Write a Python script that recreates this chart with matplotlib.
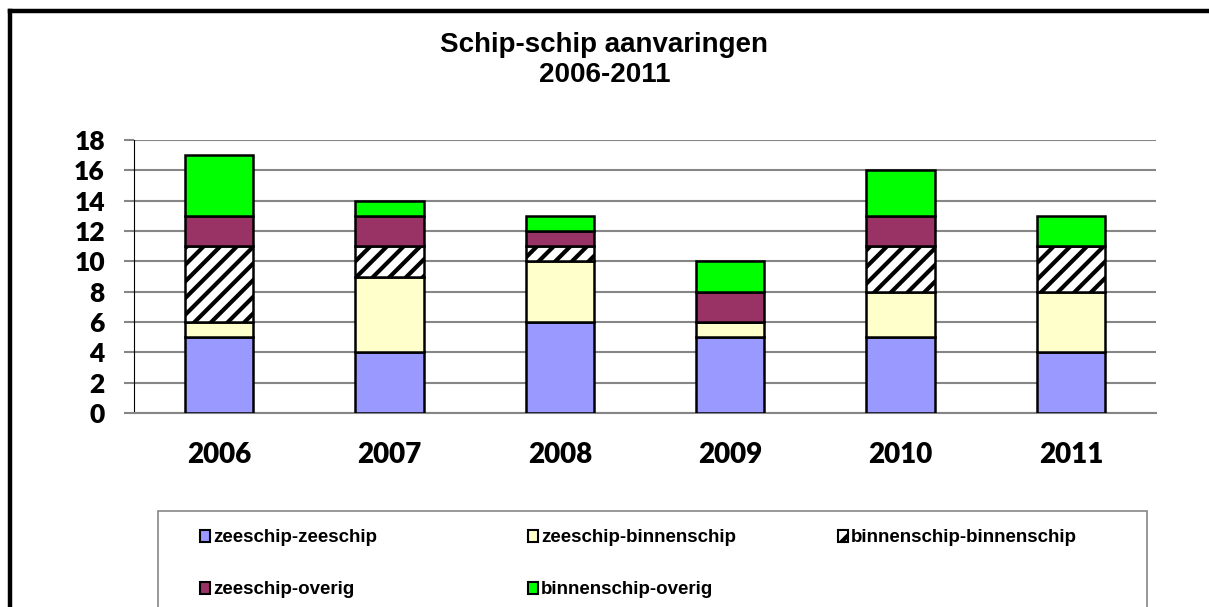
import numpy as np
import matplotlib
matplotlib.use("Agg")
import matplotlib.pyplot as plt
from matplotlib.patches import Rectangle, Patch
from matplotlib.lines import Line2D

years = ["2006", "2007", "2008", "2009", "2010", "2011"]
zeeschip_zeeschip = [5, 4, 6, 5, 5, 4]
zeeschip_binnenschip = [1, 5, 4, 1, 3, 4]
binnenschip_binnenschip = [5, 2, 1, 0, 3, 3]
zeeschip_overig = [2, 2, 1, 2, 2, 0]
binnenschip_overig = [4, 1, 1, 2, 3, 2]

labels = ["zeeschip-zeeschip", "zeeschip-binnenschip", "binnenschip-binnenschip",
          "zeeschip-overig", "binnenschip-overig"]
series = [zeeschip_zeeschip, zeeschip_binnenschip, binnenschip_binnenschip,
          zeeschip_overig, binnenschip_overig]
colors = ["#9999FF", "#FFFFCC", "white", "#993366", "#00FF00"]
hatches = [None, None, "//", None, None]

plt.rcParams["hatch.linewidth"] = 3.0
plt.rcParams["hatch.color"] = "black"

W, H = 1209, 607
fig = plt.figure(figsize=(W / 100, H / 100), dpi=100)
ax = fig.add_axes([134 / W, 1 - 413 / H, (1156 - 134) / W, (413 - 140) / H])

x = np.arange(len(years))
bottom = np.zeros(len(years))
handles = []
for vals, lab, col, hat in zip(series, labels, colors, hatches):
    vals = np.array(vals)
    ax.bar(x, vals, 0.4, bottom=bottom, color=col, edgecolor="black",
           linewidth=1.8, hatch=hat, zorder=3)
    bottom += vals
    handles.append(Patch(facecolor=col, edgecolor="black", linewidth=1.5, hatch=hat))

ax.set_xlim(-0.5, len(years) - 0.5)
ax.set_ylim(0, 18)
ax.set_yticks(range(0, 19, 2))
ax.set_xticks(x)
ax.set_xticklabels(years)
ax.yaxis.grid(True, color="#868686", linewidth=1.5, zorder=0)
ax.set_axisbelow(True)
for s in ["top", "right"]:
    ax.spines[s].set_visible(False)
ax.spines["left"].set_color("black")
ax.spines["left"].set_linewidth(0.8)
ax.spines["bottom"].set_color("#868686")
ax.spines["bottom"].set_linewidth(1.5)
ax.tick_params(axis="y", length=7, width=1.5, color="#868686", pad=14)
ax.tick_params(axis="x", length=0, pad=21)
for t in ax.get_yticklabels():
    t.set_fontfamily("Lato")
    t.set_fontweight("heavy")
    t.set_fontsize(19)
for t in ax.get_xticklabels():
    t.set_fontfamily("Lato")
    t.set_fontweight("heavy")
    t.set_fontsize(20)

fig.text(0.5, 1 - 45 / H, "Schip-schip aanvaringen", ha="center", va="center",
         fontsize=20, fontweight="bold", family="Liberation Sans")
fig.text(0.5, 1 - 75 / H, "2006-2011", ha="center", va="center",
         fontsize=20, fontweight="bold", family="Liberation Sans")

# legend box (bottom cut off like the original)
fig.add_artist(Rectangle((158 / W, -0.1), (1147 - 158) / W, 0.1 + 1 - 511 / H,
                         transform=fig.transFigure, facecolor="none",
                         edgecolor="#868686", linewidth=1.2))
pos = [(200, 538), (528, 538), (838, 538), (200, 590), (528, 590)]
for h, lab, (px, py) in zip(handles, labels, pos):
    fig.legend([h], [lab], loc="center left", bbox_to_anchor=(px / W, 1 - py / H),
               frameon=False, borderpad=0, borderaxespad=0,
               handlelength=0.55, handleheight=0.55, handletextpad=0.15,
               prop={"family": "Liberation Sans", "weight": "bold", "size": 13.5})

# outer chart border (left and top visible)
fig.add_artist(Line2D([10 / W, 10 / W], [0, 1 - 10.5 / H], transform=fig.transFigure,
                      color="black", linewidth=3.2, solid_capstyle="projecting"))
fig.add_artist(Line2D([10 / W, 1], [1 - 10.5 / H, 1 - 10.5 / H], transform=fig.transFigure,
                      color="black", linewidth=3.2, solid_capstyle="projecting"))

fig.savefig("out.png", dpi=100)
